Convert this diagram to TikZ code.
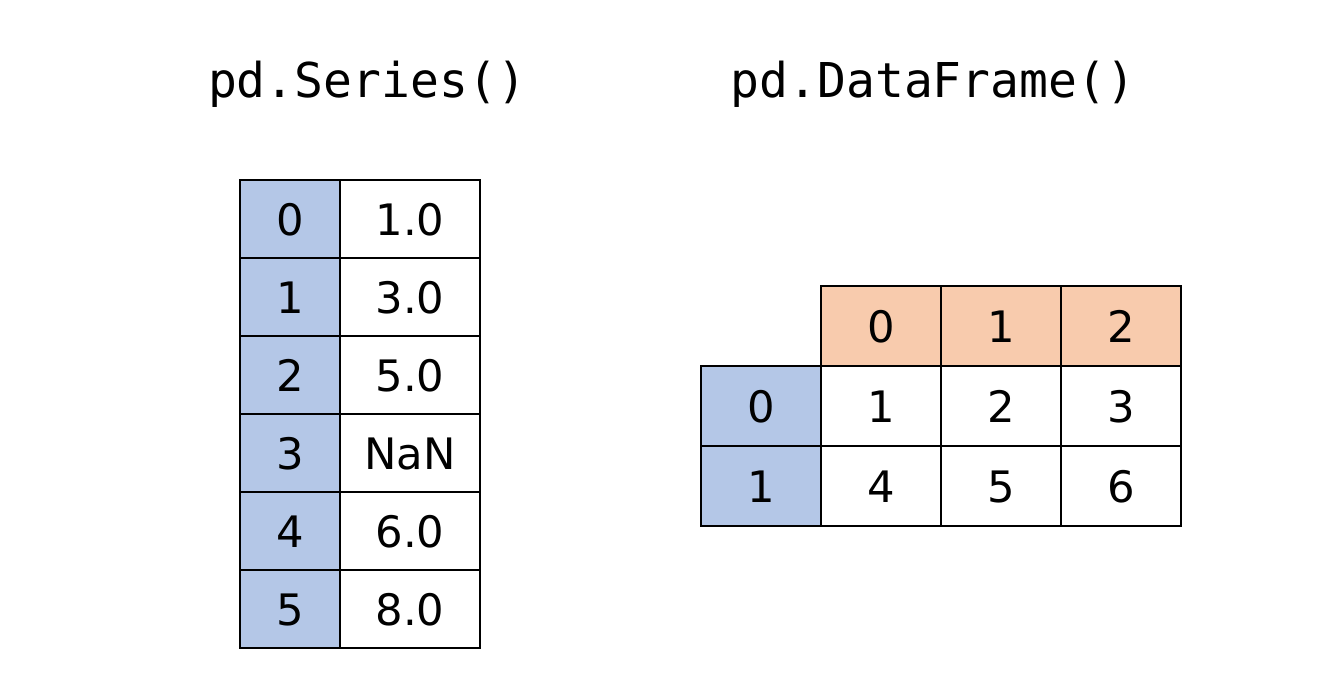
\documentclass[tikz,border=0pt]{standalone}
\usepackage{fontspec}
\setmainfont{DejaVu Sans}
\newfontfamily\codefont{DejaVu Sans Mono}
\definecolor{idxblue}{HTML}{B4C7E7}
\definecolor{colorange}{HTML}{F8CBAD}
\begin{document}
\begin{tikzpicture}[x=0.75pt,y=-0.75pt,
  cell/.style={draw=black,line width=1.8pt,inner sep=0pt,
    font=\fontsize{32.5}{38}\selectfont,text height=24pt,text depth=0pt},
  idx/.style={cell,fill=idxblue},
  colhead/.style={cell,fill=colorange},
  val/.style={cell,fill=white},
  title/.style={font=\codefont\fontsize{36}{42}\selectfont,anchor=base}]
\useasboundingbox (0,0) rectangle (1344,682);

% titles
\node[title] (ts) at (367,97) {pd.Series()};
\node[title] (td) at (933,97) {pd.DataFrame()};

% Series: index column and values
\foreach \i/\v in {0/1.0,1/3.0,2/5.0,3/NaN,4/6.0,5/8.0}{
  \node[idx,minimum width=75pt,minimum height=58.5pt] (si\i) at (290,{219+78*\i}) {\i};
  \node[val,minimum width=105pt,minimum height=58.5pt] (sv\i) at (410,{219+78*\i}) {\v};
}

% DataFrame: column header
\foreach \j in {0,1,2}{
  \node[colhead,minimum width=90pt,minimum height=60pt] (dc\j) at ({881+120*\j},326) {\j};
}
% DataFrame: row index and values
\foreach \i/\a/\b/\c in {0/1/2/3,1/4/5/6}{
  \node[idx,minimum width=90pt,minimum height=60pt] (dr\i) at (761,{406+80*\i}) {\i};
  \node[val,minimum width=90pt,minimum height=60pt] (d\i a) at (881,{406+80*\i}) {\a};
  \node[val,minimum width=90pt,minimum height=60pt] (d\i b) at (1001,{406+80*\i}) {\b};
  \node[val,minimum width=90pt,minimum height=60pt] (d\i c) at (1121,{406+80*\i}) {\c};
}
\end{tikzpicture}
\end{document}
